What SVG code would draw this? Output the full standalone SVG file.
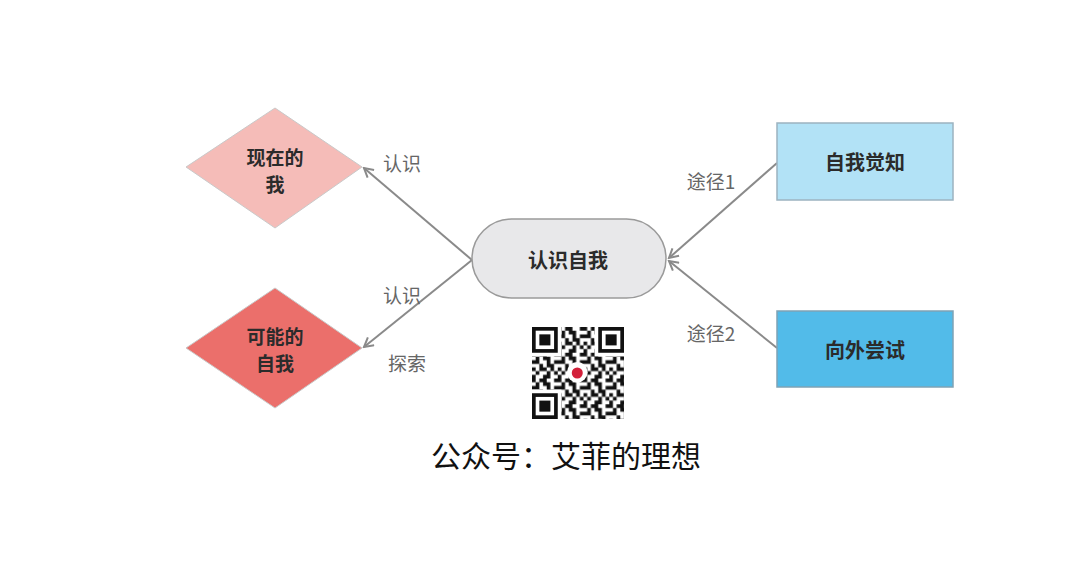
<svg xmlns="http://www.w3.org/2000/svg" width="1080" height="576" viewBox="0 0 1080 576">
<style>
.node-t{font-family:"Noto Sans CJK SC","Noto Sans",sans-serif;font-size:20px;font-weight:bold;fill:#2b2b2b;text-anchor:middle;dominant-baseline:central}
.node-s{font-family:"Noto Sans CJK SC","Noto Sans",sans-serif;font-size:19px;font-weight:bold;fill:#2b2b2b;text-anchor:middle;dominant-baseline:central}
.lbl{font-family:"Noto Sans CJK SC","Noto Sans",sans-serif;font-size:19px;fill:#666;text-anchor:middle;dominant-baseline:central}
.conn{stroke:#8a8a8a;stroke-width:2;fill:none;marker-end:url(#arr)}
.cap{font-family:"Noto Sans CJK SC","Noto Sans",sans-serif;font-size:30px;fill:#111;text-anchor:middle;dominant-baseline:central}
</style>
<defs>
<marker id="arr" viewBox="0 0 12 12" refX="10" refY="6" markerWidth="12" markerHeight="12" markerUnits="userSpaceOnUse" orient="auto">
<path d="M1 1 L10 6 L1 11" fill="none" stroke="#8a8a8a" stroke-width="2"/>
</marker>
<pattern id="qr" patternUnits="userSpaceOnUse" width="7" height="7">
<path fill="#111" d="M0 0h1v1H0z M2 0h2v1H2z M6 0h1v1H6z M1 1h1v1H1z M3 1h2v1H3z M0 2h2v1H0z M4 2h1v1H4z M6 2h1v1H6z M2 3h1v1H2z M4 3h2v1H4z M0 4h1v1H0z M2 4h2v1H2z M5 4h1v1H5z M1 5h1v1H1z M4 5h1v1H4z M6 5h1v1H6z M0 6h1v1H0z M3 6h2v1H3z"/>
</pattern>
<g id="finder">
<rect x="0" y="0" width="8" height="8" fill="#fff"/>
<rect x="0.5" y="0.5" width="6" height="6" fill="none" stroke="#111" stroke-width="1"/>
<rect x="2" y="2" width="3" height="3" fill="#111"/>
</g>
</defs>
<rect width="1080" height="576" fill="#fff"/>
<g id="connectors">
<line class="conn" x1="472" y1="260" x2="364" y2="168"/>
<line class="conn" x1="472" y1="260" x2="364" y2="347"/>
<line class="conn" x1="777" y1="163" x2="669" y2="258"/>
<line class="conn" x1="777" y1="348" x2="669" y2="261"/>
<text class="lbl" x="402" y="162">认识</text>
<text class="lbl" x="402" y="294">认识</text>
<text class="lbl" x="407" y="362">探索</text>
<text class="lbl" x="711" y="180">途径1</text>
<text class="lbl" x="711" y="332">途径2</text>
</g>
<g id="node-now">
<polygon points="186,167 275,108 362,167 275,228" fill="#f5bcb8" stroke="#c9c9c9" stroke-width="1"/>
<text class="node-s" x="275" y="156">现在的<tspan x="275" dy="27">我</tspan></text>
</g>
<g id="node-possible">
<polygon points="186,348 275,288 362,348 275,408" fill="#eb6f6b" stroke="#c9c9c9" stroke-width="1"/>
<text class="node-s" x="275" y="335">可能的<tspan x="275" dy="27">自我</tspan></text>
</g>
<g id="node-center">
<rect x="472" y="219" width="194" height="79" rx="39.5" fill="#e8e8ea" stroke="#9a9a9a" stroke-width="1.5"/>
<text class="node-t" x="568" y="259">认识自我</text>
</g>
<g id="node-aware">
<rect x="777" y="123" width="176" height="77" fill="#b2e2f6" stroke="#9cb3c0" stroke-width="1.5"/>
<text class="node-t" x="865" y="161">自我觉知</text>
</g>
<g id="node-try">
<rect x="777" y="311" width="176" height="76" fill="#52bbe9" stroke="#7fa3b5" stroke-width="1.5"/>
<text class="node-t" x="865" y="349">向外尝试</text>
</g>
<g id="qrcode" transform="translate(532,327) scale(3.68)">
<rect width="25" height="25" fill="#fff"/>
<rect width="25" height="25" fill="url(#qr)"/>
<use href="#finder"/>
<use href="#finder" transform="translate(25,0) scale(-1,1)"/>
<use href="#finder" transform="translate(0,25) scale(1,-1)"/>
<circle cx="12.3" cy="12.3" r="2.8" fill="#fff"/>
<circle cx="12.3" cy="12.5" r="1.5" fill="#d3203a"/>
</g>
<text class="cap" x="566" y="454">公众号：艾菲的理想</text>
</svg>
